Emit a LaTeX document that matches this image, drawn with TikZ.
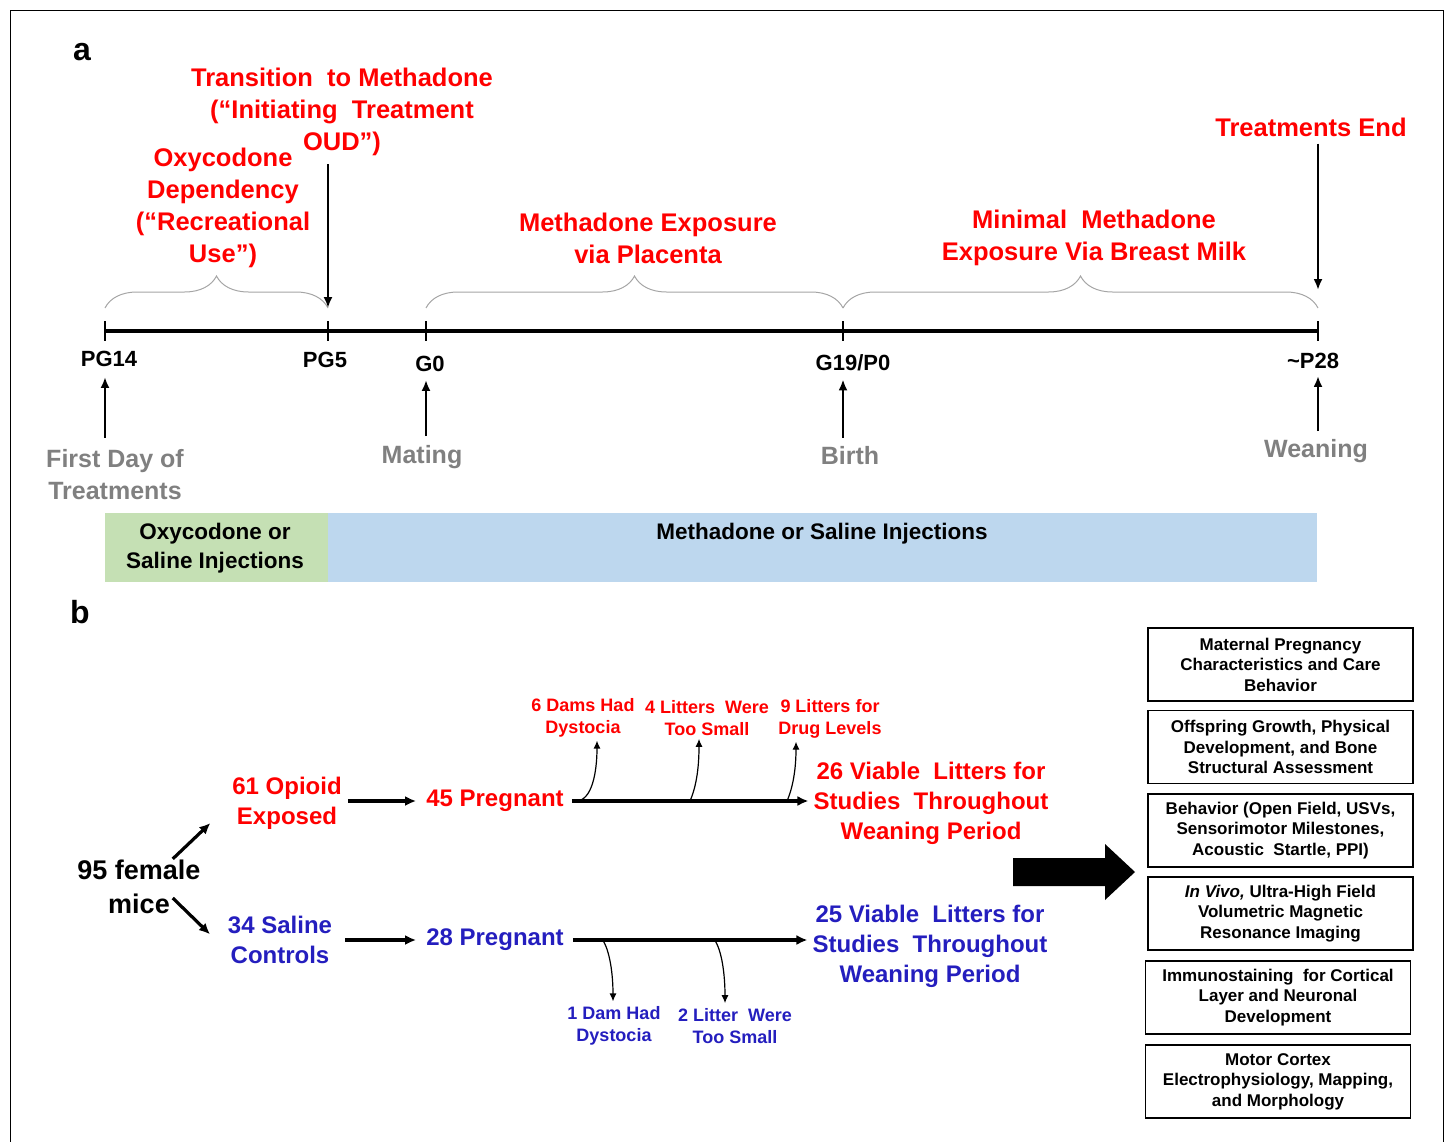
\documentclass[tikz,border=0pt]{standalone}
\usepackage{fontspec}
\setmainfont{Liberation Sans}
\usetikzlibrary{
    arrows.meta,
    positioning,
    calc,
    decorations.pathreplacing
}

\definecolor{oudred}{RGB}{255,0,0}
\definecolor{salblue}{RGB}{36,30,190}
\definecolor{evgray}{RGB}{128,128,128}
\definecolor{bracegray}{RGB}{165,165,165}
\definecolor{oxygreen}{RGB}{197,224,180}
\definecolor{methblue}{RGB}{189,215,238}

\begin{document}
\begin{tikzpicture}[
  x=1pt, y=-1pt,
  >=Latex,
  every node/.style = {align=center, inner sep=0pt, font=\bfseries},
  panel/.style    = {font=\bfseries\fontsize{32}{36}\selectfont},
  phase/.style    = {text=oudred, font=\bfseries\fontsize{25.5}{32}\selectfont},
  day/.style      = {font=\bfseries\fontsize{22}{26}\selectfont},
  event/.style    = {text=evgray, font=\bfseries\fontsize{25}{32}\selectfont},
  bar/.style      = {minimum height=69pt, anchor=north west},
  barlab/.style   = {font=\bfseries\fontsize{22.5}{29}\selectfont},
  opi/.style      = {text=oudred, font=\bfseries\fontsize{24}{30}\selectfont},
  sal/.style      = {text=salblue, font=\bfseries\fontsize{24}{30}\selectfont},
  lossred/.style  = {text=oudred, font=\bfseries\fontsize{18}{22}\selectfont},
  lossblue/.style = {text=salblue, font=\bfseries\fontsize{18}{22}\selectfont},
  outbox/.style   = {draw, line width=1.3pt, minimum width=265pt, minimum height=73pt,
                     font=\bfseries\fontsize{17}{20.5}\selectfont},
  brace/.style    = {draw=bracegray, line width=1pt,
                     decorate, decoration={brace, amplitude=32pt}},
  evarrow/.style  = {line width=2.8pt, -{Latex[length=11pt, width=9pt]}},
  flow/.style     = {line width=3.2pt, -{Latex[length=11pt, width=10pt]}},
  loss/.style     = {line width=1.2pt, -{Latex[length=8pt, width=7pt]}}
]
\useasboundingbox (0,0) rectangle (1447,1142);

% Frame
\draw[line width=1pt] (10,1142) -- (10,11) -- (1443,11) -- (1443,1142);

% ---------- a: timeline ----------
\node[panel] (pa) at (82,52) {a};

\coordinate (pg14) at (105,331);
\coordinate (pg5)  at (328,331);
\coordinate (g0)   at (426,331);
\coordinate (g19)  at (843,331);
\coordinate (p28)  at (1318,331);

\draw[line width=4.5pt] (pg14) -- (p28);
\foreach \t in {pg14,pg5,g0,g19,p28}
  \draw[line width=2.8pt] ($(\t)+(0,-10)$) -- ($(\t)+(0,10)$);

% Day labels
\node[day] (lpg14) at (109,359) {PG14};
\node[day] (lpg5)  at (325,360) {PG5};
\node[day] (lg0)   at (430,364) {G0};
\node[day] (lg19)  at (853,363) {G19/P0};
\node[day] (lp28)  at (1313,361) {\textasciitilde P28};

% Events
\node[event] (first)   at (115,475) {First Day of\\Treatments};
\node[event] (mating)  at (422,457) {Mating};
\node[event] (birth)   at (850,456) {Birth};
\node[event] (weaning) at (1316,451) {Weaning};

\draw[evarrow, shorten <=12pt, shorten >=10pt] (first.north -| pg14) -- (lpg14.south -| pg14);
\draw[evarrow, shorten <=9pt, shorten >=8pt] (mating.north -| g0) -- (lg0.south -| g0);
\draw[evarrow, shorten <=9pt, shorten >=8pt] (birth.north -| g19) -- (lg19.south -| g19);
\draw[evarrow, shorten <=8pt, shorten >=7pt] (weaning.north -| p28) -- (lp28.south -| p28);

% Phases
\draw[brace] ($(pg14)+(0,-23)$) -- ($(pg5)+(0,-23)$);
\draw[brace] ($(g0)+(0,-23)$) -- ($(g19)+(0,-23)$);
\draw[brace] ($(g19)+(0,-23)$) -- ($(p28)+(0,-23)$);

\node[phase] (trans) at (342,112) {Transition\ \ to Methadone\\(“Initiating\ \ Treatment\\OUD”)};
\node[phase] (oxy)   at (223,208) {Oxycodone\\Dependency\\(“Recreational\\Use”)};
\node[phase] (plac)  at (648,238) {Methadone Exposure\\via Placenta};
\node[phase] (milk)  at (1094,238) {Minimal\ \ Methadone\\Exposure Via Breast Milk};
\node[phase] (tend)  at (1311,127) {Treatments End};

\draw[evarrow, shorten <=8pt, shorten >=23pt] (trans.south -| pg5) -- (pg5);
\draw[evarrow, shorten <=7pt, shorten >=41pt] (tend.south -| p28) -- (p28);

% Injection bars
\node[bar, fill=oxygreen, minimum width=223pt] (oxybar) at (105,513) {};
\node[bar, fill=methblue, minimum width=989pt] (metbar) at (328,513) {};
\node[barlab] (oxylab) at (215,548) {Oxycodone or\\Saline Injections};
\node[barlab] (metlab) at (822,534) {Methadone or Saline Injections};

% ---------- b: cohorts ----------
\node[panel] (pb) at (80,612) {b};

\node[font=\bfseries\fontsize{27}{34}\selectfont] (mice) at (139,887) {95 female\\mice};
\node[opi] (opioid) at (287,803) {61 Opioid\\Exposed};
\node[sal] (saline) at (280,940) {34 Saline\\Controls};
\node[opi] (preg45) at (495,801) {45 Pregnant};
\node[sal] (preg28) at (495,940) {28 Pregnant};
\node[opi] (viab26) at (931,803) {26 Viable\ \ Litters for\\Studies\ \ Throughout\\Weaning Period};
\node[sal] (viab25) at (930,946) {25 Viable\ \ Litters for\\Studies\ \ Throughout\\Weaning Period};

\draw[flow, shorten >=1pt] ($(mice.north east)+(-28,-1)$) -- ($(opioid.south west)+(-21,-7)$);
\draw[flow, shorten >=1pt] ($(mice.east)+(-28,11)$) -- ($(saline.west)+(-17,-5)$);
\draw[flow, shorten <=6pt, shorten >=10pt] (opioid.east |- preg45) -- (preg45.west);
\draw[flow, shorten <=13pt, shorten >=10pt] (saline.east |- preg28) -- (preg28.west);
\draw[flow, shorten <=8pt, shorten >=5pt] (preg45.east) -- (viab26.west |- preg45);
\draw[flow, shorten <=9pt, shorten >=5pt] (preg28.east) -- (viab25.west |- preg28);

% Losses
\node[lossred] (dyst6)  at (583,718) {6 Dams Had\\Dystocia};
\node[lossred] (small4) at (707,718) {4 Litters\ \ Were\\Too Small};
\node[lossred] (drug9)  at (830,719) {9 Litters for\\Drug Levels};
\node[lossblue] (dyst1)  at (614,1026) {1 Dam Had\\Dystocia};
\node[lossblue] (small2) at (735,1026) {2 Litter\ \ Were\\Too Small};

\draw[loss, shorten >=3pt] (576,801) .. controls (592,801) and (597,772) .. (dyst6.south -| 597,0);
\draw[loss, shorten >=3pt] (690,801) .. controls (697,785) and (699,765) .. (small4.south -| 699,0);
\draw[loss, shorten >=3pt] (787,801) .. controls (794,785) and (796,765) .. (drug9.south -| 796,0);
\draw[loss, shorten >=5pt] (602,939) .. controls (610,950) and (613,975) .. (dyst1.north -| 613,0);
\draw[loss, shorten >=5pt] (714,939) .. controls (722,950) and (725,975) .. (small2.north -| 725,0);

% Outcomes
\fill (1013,858) -- (1105,858) -- (1105,844) -- (1135,872) -- (1105,900) -- (1105,886) -- (1013,886) -- cycle;

\node[outbox] (o1) at (1280.5,664.5) {Maternal Pregnancy\\Characteristics and Care\\Behavior};
\node[outbox] (o2) at (1280.5,747)   {Offspring Growth, Physical\\Development, and Bone\\Structural Assessment};
\node[outbox] (o3) at (1280.5,830.5) {Behavior (Open Field, USVs,\\Sensorimotor Milestones,\\Acoustic\ \ Startle, PPI)};
\node[outbox] (o4) at (1280.5,913.5) {\textit{In Vivo,} Ultra-High Field\\Volumetric Magnetic\\Resonance Imaging};
\node[outbox] (o5) at (1278,997.5)   {Immunostaining\ \ for Cortical\\Layer and Neuronal\\Development};
\node[outbox] (o6) at (1278,1081.5)  {Motor Cortex\\Electrophysiology, Mapping,\\and Morphology};

\end{tikzpicture}
\end{document}
